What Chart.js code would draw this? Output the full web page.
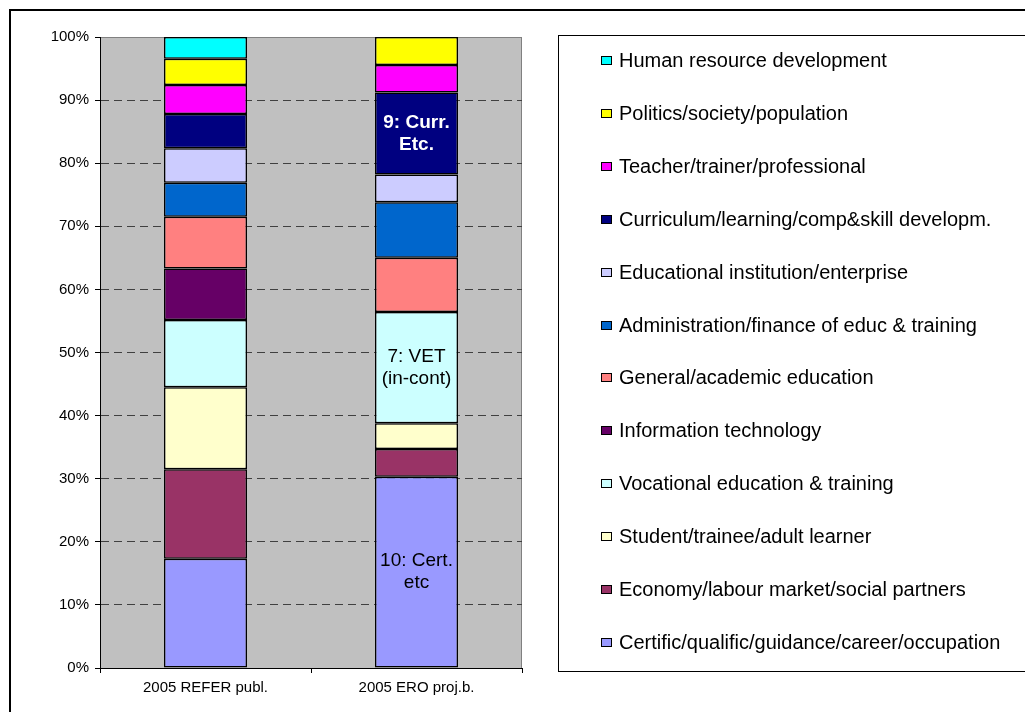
<!DOCTYPE html>
<html>
<head>
<meta charset="utf-8">
<script src="https://cdn.jsdelivr.net/npm/chart.js@4.4.1/dist/chart.umd.min.js"></script>
<style>
  html, body { margin: 0; padding: 0; background: #ffffff; }
  #wrap { width: 1025px; height: 712px; }
</style>
</head>
<body>
<div id="wrap"><canvas id="c" width="1025" height="712"></canvas></div>
<script>
// Publication categories (x axis)
const categories = ['2005 REFER publ.', '2005 ERO proj.b.'];

// Share of each theme, in percent, per category (stacked bottom to top)
const certific    = [17.3, 30.3];
const economy     = [14.2, 4.4];
const student     = [13.0, 4.1];
const vocational  = [10.65, 17.6];
const infoTech    = [8.15, 0];
const general     = [8.2, 8.6];
const admin       = [5.4, 8.8];
const educInst    = [5.45, 4.4];
const curriculum  = [5.45, 13.0];
const teacher     = [4.6, 4.35];
const politics    = [4.15, 4.45];
const humanRes    = [3.45, 0];

const seriesNames = [
  'Certific/qualific/guidance/career/occupation',
  'Economy/labour market/social partners',
  'Student/trainee/adult learner',
  'Vocational education & training',
  'Information technology',
  'General/academic education',
  'Administration/finance of educ & training',
  'Educational institution/enterprise',
  'Curriculum/learning/comp&skill developm.',
  'Teacher/trainer/professional',
  'Politics/society/population',
  'Human resource development'
];
const seriesValues = [certific, economy, student, vocational, infoTech, general,
                      admin, educInst, curriculum, teacher, politics, humanRes];
const seriesColors = ['#9999FF', '#993366', '#FFFFCC', '#CCFFFF', '#660066', '#FF8080',
                      '#0066CC', '#CCCCFF', '#000080', '#FF00FF', '#FFFF00', '#00FFFF'];

// Y axis tick labels
const yTicks = [0, 10, 20, 30, 40, 50, 60, 70, 80, 90, 100];

// Notes written inside particular segments
const segmentNotes = [
  { series: 8, category: 1, lines: ['9: Curr.', 'Etc.'], color: '#ffffff', bold: true },
  { series: 3, category: 1, lines: ['7: VET', '(in-cont)'], color: '#000000', bold: false },
  { series: 0, category: 1, lines: ['10: Cert.', 'etc'], color: '#000000', bold: false }
];

const FONT = '"Liberation Sans", Arial, sans-serif';

const datasets = seriesNames.map((name, i) => ({
  label: name,
  data: seriesValues[i],
  backgroundColor: seriesColors[i],
  borderColor: '#000000',
  borderWidth: 1.5,
  borderSkipped: false,
  inflateAmount: 0,
  barThickness: 83
}));

const framePlugin = {
  id: 'frame',
  beforeDraw(chart) {
    const { ctx, chartArea: a } = chart;
    ctx.save();
    ctx.fillStyle = '#ffffff';
    ctx.fillRect(0, 0, chart.width, chart.height);
    ctx.fillStyle = '#C0C0C0';
    ctx.fillRect(a.left, a.top, a.right - a.left, a.bottom - a.top);
    ctx.strokeStyle = '#808080';
    ctx.lineWidth = 1;
    ctx.strokeRect(a.left + 0.5, a.top + 0.5, a.right - a.left - 1, a.bottom - a.top);
    ctx.restore();
  },
  afterDraw(chart) {
    const { ctx } = chart;
    ctx.save();
    // outer chart border
    ctx.strokeStyle = '#000000';
    ctx.lineWidth = 2;
    ctx.strokeRect(10, 10, 1200, 1200);
    // legend box
    ctx.lineWidth = 1;
    ctx.strokeStyle = '#000000';
    ctx.strokeRect(558.5, 35.5, 700, 636);
    // legend entries, top entry = last series
    ctx.font = '20px ' + FONT;
    ctx.textBaseline = 'middle';
    ctx.textAlign = 'left';
    const n = chart.data.datasets.length;
    for (let k = 0; k < n; k++) {
      const ds = chart.data.datasets[n - 1 - k];
      const y = 60.5 + 52.9 * k;
      ctx.fillStyle = ds.backgroundColor;
      ctx.fillRect(601, Math.round(y - 4.5), 11, 9);
      ctx.strokeStyle = '#000000';
      ctx.strokeRect(601.5, Math.round(y - 4.5) + 0.5, 10, 8);
      ctx.fillStyle = '#000000';
      ctx.fillText(ds.label, 619, y + 1);
    }
    // notes inside segments
    ctx.textAlign = 'center';
    segmentNotes.forEach(note => {
      const el = chart.getDatasetMeta(note.series).data[note.category];
      const cy = (el.y + el.base) / 2;
      ctx.fillStyle = note.color;
      ctx.font = (note.bold ? 'bold ' : '') + '19px ' + FONT;
      const lh = 22;
      const start = cy - (note.lines.length - 1) * lh / 2;
      note.lines.forEach((t, j) => ctx.fillText(t, el.x, start + j * lh));
    });
    ctx.restore();
  }
};

new Chart(document.getElementById('c'), {
  type: 'bar',
  data: { labels: categories, datasets },
  options: {
    responsive: false,
    animation: false,
    devicePixelRatio: 1,
    layout: { padding: { left: 10, top: 37, right: 503, bottom: 0 } },
    plugins: { legend: { display: false }, tooltip: { enabled: false } },
    scales: {
      x: {
        stacked: true,
        afterFit: s => { s.height = 44; },
        grid: { offset: true, drawOnChartArea: false, drawTicks: true, tickLength: 5,
                tickColor: '#000000', tickBorderDash: [] },
        border: { display: true, color: '#000000', width: 1 },
        ticks: { color: '#000000', font: { family: FONT, size: 15 }, padding: 6 }
      },
      y: {
        stacked: true,
        min: 0,
        max: 100,
        afterFit: s => { s.width = 90; },
        afterBuildTicks: s => { s.ticks = yTicks.map(v => ({ value: v })); },
        grid: {
          color: ctx => (ctx.tick && (ctx.tick.value === 0 || ctx.tick.value === 100)) ? 'rgba(0,0,0,0)' : '#404040',
          lineWidth: 1,
          drawTicks: true,
          tickLength: 5,
          tickColor: '#000000',
          tickBorderDash: []
        },
        border: { display: true, color: '#000000', width: 1, dash: [8, 5] },
        ticks: { color: '#000000', font: { family: FONT, size: 15 }, padding: 6,
                 callback: v => v + '%' }
      }
    }
  },
  plugins: [framePlugin]
});
</script>
</body>
</html>
